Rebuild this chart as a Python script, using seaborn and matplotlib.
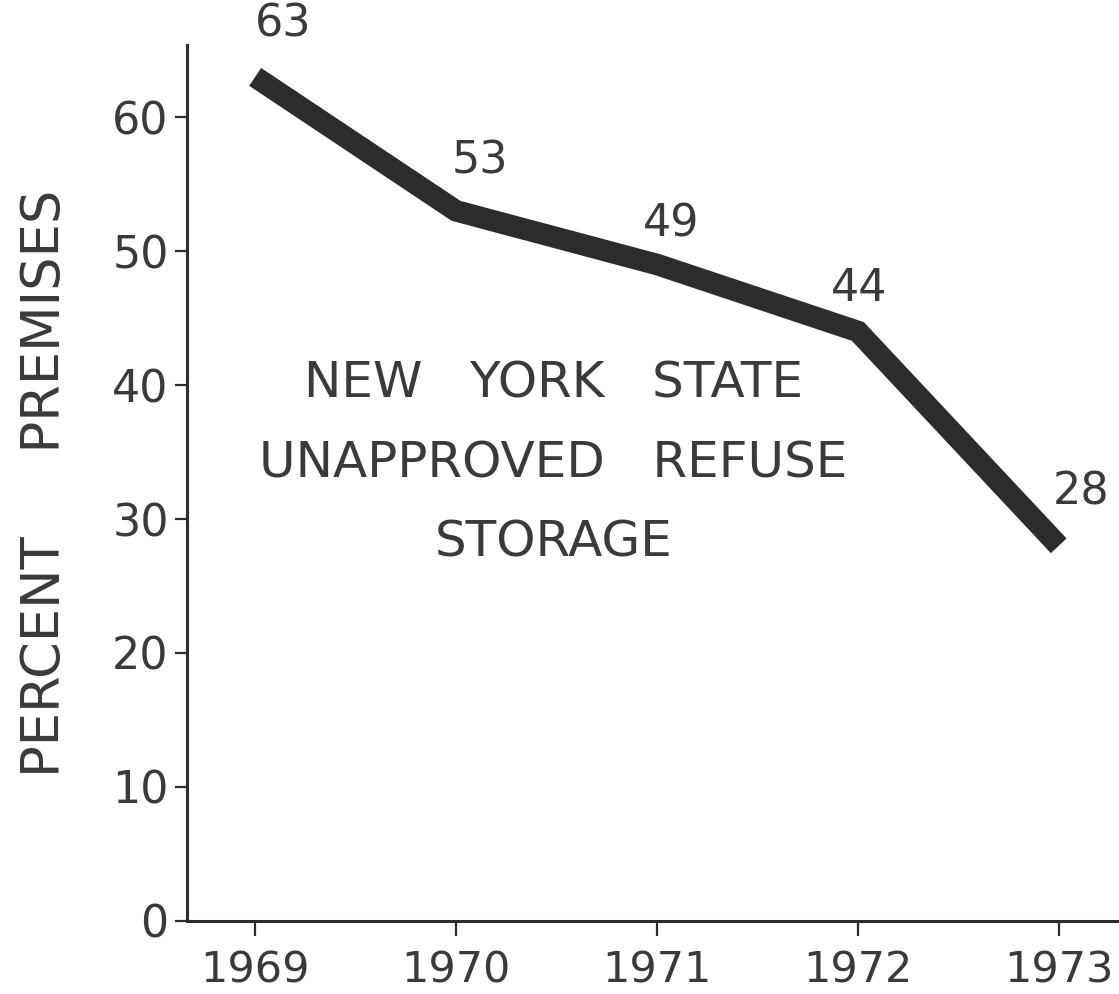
import matplotlib
matplotlib.use("Agg")
import matplotlib.pyplot as plt
import seaborn as sns
import pandas as pd

# Data
years = [1969, 1970, 1971, 1972, 1973]
percent = [63, 53, 49, 44, 28]
year_labels = ["1969", "1970", "1971", "1972", "1973"]
y_ticks = [0, 10, 20, 30, 40, 50, 60]
title_lines = ["NEW   YORK   STATE", "UNAPPROVED   REFUSE", "STORAGE"]

df = pd.DataFrame({"year": years, "percent": percent})

sns.set_theme(style="white")
plt.rcParams["font.family"] = ["DejaVu Sans"]
plt.rcParams["text.color"] = "#3a3a3a"

ink = "#2c2c2c"
txt = "#3a3a3a"
fig = plt.figure(figsize=(11.19, 9.94), dpi=100)
ax = fig.add_axes([0.167, 0.0735, 0.833, 0.8815])

sns.lineplot(data=df, x="year", y="percent", ax=ax, color=ink, linewidth=15.5)
for ln in ax.lines:
    ln.set_solid_capstyle("butt")
    ln.set_solid_joinstyle("miter")

ax.set_xlim(1968.66, 1973.30)
ax.set_ylim(0, 65.4)

ax.set_xticks(years)
ax.set_xticklabels(year_labels)
ax.set_yticks(y_ticks)
ax.tick_params(axis="x", direction="out", length=11, width=1.6, color=ink,
               labelsize=31, labelcolor=txt, pad=33, bottom=True)
ax.tick_params(axis="y", direction="out", length=9, width=1.6, color=ink,
               labelsize=32, labelcolor=txt, pad=4, left=True)
# baseline-anchored year labels so the digits sit near the bottom edge
for lab in ax.get_xticklabels():
    lab.set_verticalalignment("baseline")

for side in ["top", "right"]:
    ax.spines[side].set_visible(False)
for side in ["left", "bottom"]:
    ax.spines[side].set_color(ink)
    ax.spines[side].set_linewidth(2.2)

ax.set_xlabel("")
ax.set_ylabel("PERCENT     PREMISES", fontsize=38, color=txt)
ax.yaxis.set_label_coords(-0.124, 0.5)

# value labels above each point
label_offsets = [(20, 38), (17, 36), (10, 29), (1, 31), (16, 39)]
for x, y, off in zip(years, percent, label_offsets):
    ax.annotate(str(y), (x, y), xytext=off, textcoords="offset points",
                ha="center", va="center", fontsize=32, color=txt,
                annotation_clip=False)

# chart title inside the plot
for i, line in enumerate(title_lines):
    ax.text(0.393, 0.613 - i * 0.0905, line, transform=ax.transAxes,
            ha="center", va="center", fontsize=36, color=txt)

fig.savefig("out.png", dpi=100)
